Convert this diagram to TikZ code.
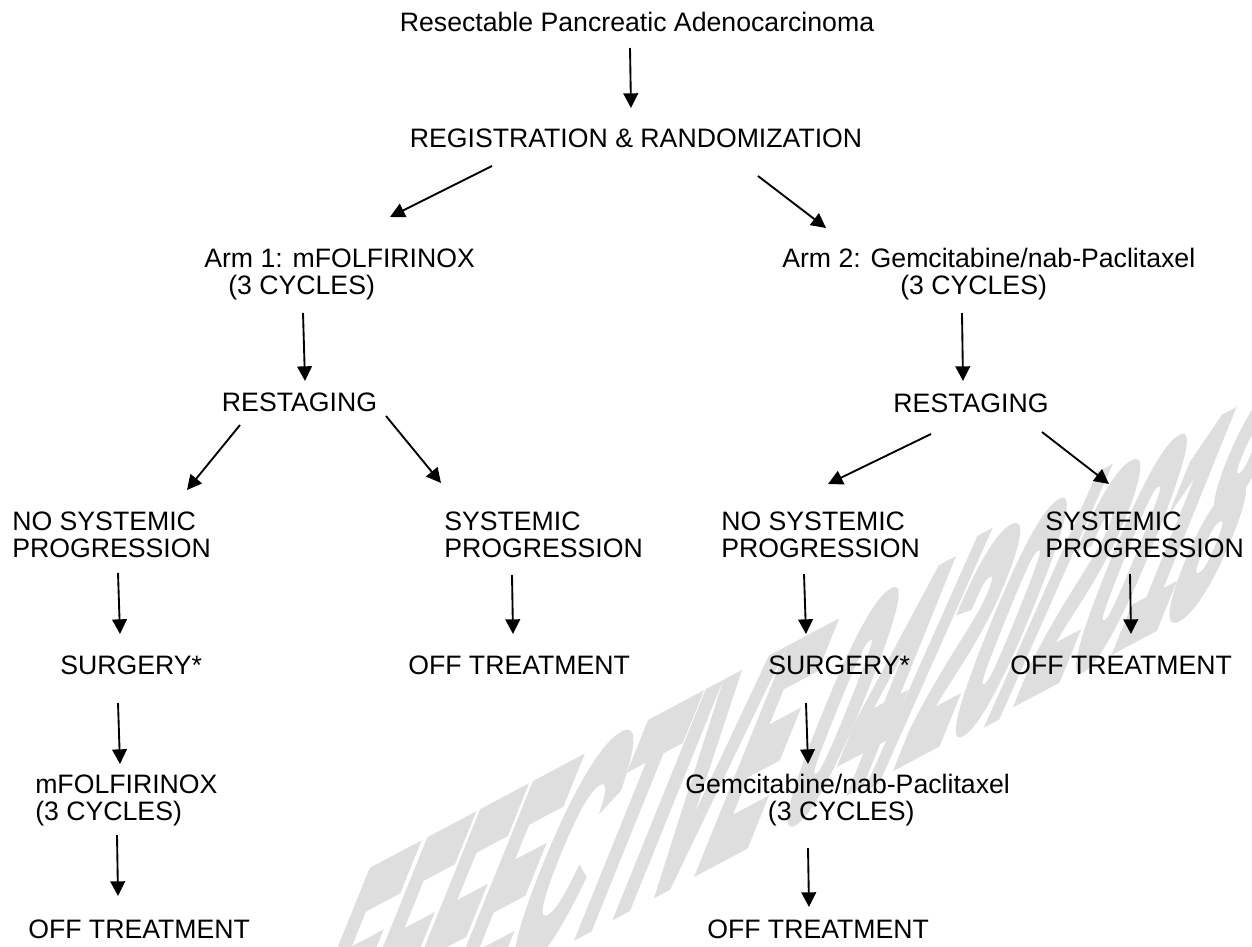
\documentclass[tikz,border=0pt]{standalone}
\usepackage{fontspec}
\setmainfont{Liberation Sans}
\newfontfamily\wmfont{Liberation Sans Bold}[FakeBold=6]
\usetikzlibrary{arrows.meta}
\begin{document}
\begin{tikzpicture}[x=0.75pt,y=-0.75pt,
  lbl/.style={inner sep=0pt, font=\fontsize{20}{20.25}\selectfont, align=left},
  arr/.style={line width=1.4pt, -{Triangle[length=11pt,width=11pt]}},
  wm/.style={text=black!13, font=\fontsize{20}{24}\selectfont\wmfont, inner sep=0pt}]
\useasboundingbox (0,0) rectangle (1252,946);
% watermark
\begin{scope}
\clip (0,0) rectangle (1252,946);
\begin{scope}[shift={(276,1092)}, cm={3.240,1.723,4.683,11.59,(0,0)}]
\node[wm, transform shape, anchor=base west] (wmark) at (0,0) {EFFECTIVE 04/20/2018};
\end{scope}
\end{scope}
% labels
\node[lbl, anchor=base] (title) at (637,31.5) {Resectable Pancreatic Adenocarcinoma};
\node[lbl, anchor=base] (reg) at (636,147.5) {REGISTRATION \& RANDOMIZATION};
\node[lbl, anchor=base west] (arm1) at (204,294.5) {Arm 1: mFOLFIRINOX\\\hspace*{18pt}(3 CYCLES)};
\node[lbl, anchor=base west] (arm2) at (782,294.5) {Arm 2: Gemcitabine/nab-Paclitaxel\\\hspace*{88.5pt}(3 CYCLES)};
\node[lbl, anchor=base] (rest1) at (299.5,411.5) {RESTAGING};
\node[lbl, anchor=base] (rest2) at (971,412) {RESTAGING};
\node[lbl, anchor=base west] (nsp1) at (12,557.5) {NO SYSTEMIC\\PROGRESSION};
\node[lbl, anchor=base west] (sp1) at (444,557.5) {SYSTEMIC\\PROGRESSION};
\node[lbl, anchor=base west] (nsp2) at (721,557.5) {NO SYSTEMIC\\PROGRESSION};
\node[lbl, anchor=base west] (sp2) at (1045,557.5) {SYSTEMIC\\PROGRESSION};
\node[lbl, anchor=base west] (surg1) at (60,674.5) {SURGERY*};
\node[lbl, anchor=base west] (off1) at (408,674.5) {OFF TREATMENT};
\node[lbl, anchor=base west] (surg2) at (768,674.5) {SURGERY*};
\node[lbl, anchor=base west] (off2) at (1010,674.5) {OFF TREATMENT};
\node[lbl, anchor=base west] (chemo1) at (35,820.5) {mFOLFIRINOX\\(3 CYCLES)};
\node[lbl, anchor=base west] (chemo2) at (685,820) {Gemcitabine/nab-Paclitaxel\\\hspace*{62pt}(3 CYCLES)};
\node[lbl, anchor=base west] (end1) at (28,938.5) {OFF TREATMENT};
\node[lbl, anchor=base west] (end2) at (707,938.5) {OFF TREATMENT};
% connector end points
\coordinate (title-out) at (630,48);   \coordinate (reg-in) at (631,108);
\coordinate (reg-out1) at (492,166);   \coordinate (arm1-in) at (390,217);
\coordinate (reg-out2) at (758,176);   \coordinate (arm2-in) at (826,228);
\coordinate (arm1-out) at (303,313);   \coordinate (rest1-in) at (305,381);
\coordinate (arm2-out) at (962,313);   \coordinate (rest2-in) at (963,381);
\coordinate (rest1-out1) at (240,425); \coordinate (nsp1-in) at (187,490);
\coordinate (rest1-out2) at (386,416); \coordinate (sp1-in) at (441,483);
\coordinate (rest2-out1) at (931,434); \coordinate (nsp2-in) at (828,484);
\coordinate (rest2-out2) at (1042,432);\coordinate (sp2-in) at (1109,484);
\coordinate (nsp1-out) at (118,573);   \coordinate (surg1-in) at (120,634);
\coordinate (sp1-out) at (512,575);    \coordinate (off1-in) at (513,634);
\coordinate (nsp2-out) at (804,574);   \coordinate (surg2-in) at (806,634);
\coordinate (sp2-out) at (1130,574);   \coordinate (off2-in) at (1131,634);
\coordinate (surg1-out) at (118,703);  \coordinate (chemo1-in) at (120,764);
\coordinate (surg2-out) at (806,703);  \coordinate (chemo2-in) at (808,764);
\coordinate (chemo1-out) at (117,835); \coordinate (end1-in) at (118,896);
\coordinate (chemo2-out) at (808,848); \coordinate (end2-in) at (809,907);
% connectors
\draw[arr] (title-out) -- (reg-in);
\draw[arr] (reg-out1) -- (arm1-in);
\draw[arr] (reg-out2) -- (arm2-in);
\draw[arr] (arm1-out) -- (rest1-in);
\draw[arr] (arm2-out) -- (rest2-in);
\draw[arr] (rest1-out1) -- (nsp1-in);
\draw[arr] (rest1-out2) -- (sp1-in);
\draw[arr] (rest2-out1) -- (nsp2-in);
\draw[arr] (rest2-out2) -- (sp2-in);
\draw[arr] (nsp1-out) -- (surg1-in);
\draw[arr] (sp1-out) -- (off1-in);
\draw[arr] (nsp2-out) -- (surg2-in);
\draw[arr] (sp2-out) -- (off2-in);
\draw[arr] (surg1-out) -- (chemo1-in);
\draw[arr] (surg2-out) -- (chemo2-in);
\draw[arr] (chemo1-out) -- (end1-in);
\draw[arr] (chemo2-out) -- (end2-in);
\end{tikzpicture}
\end{document}
